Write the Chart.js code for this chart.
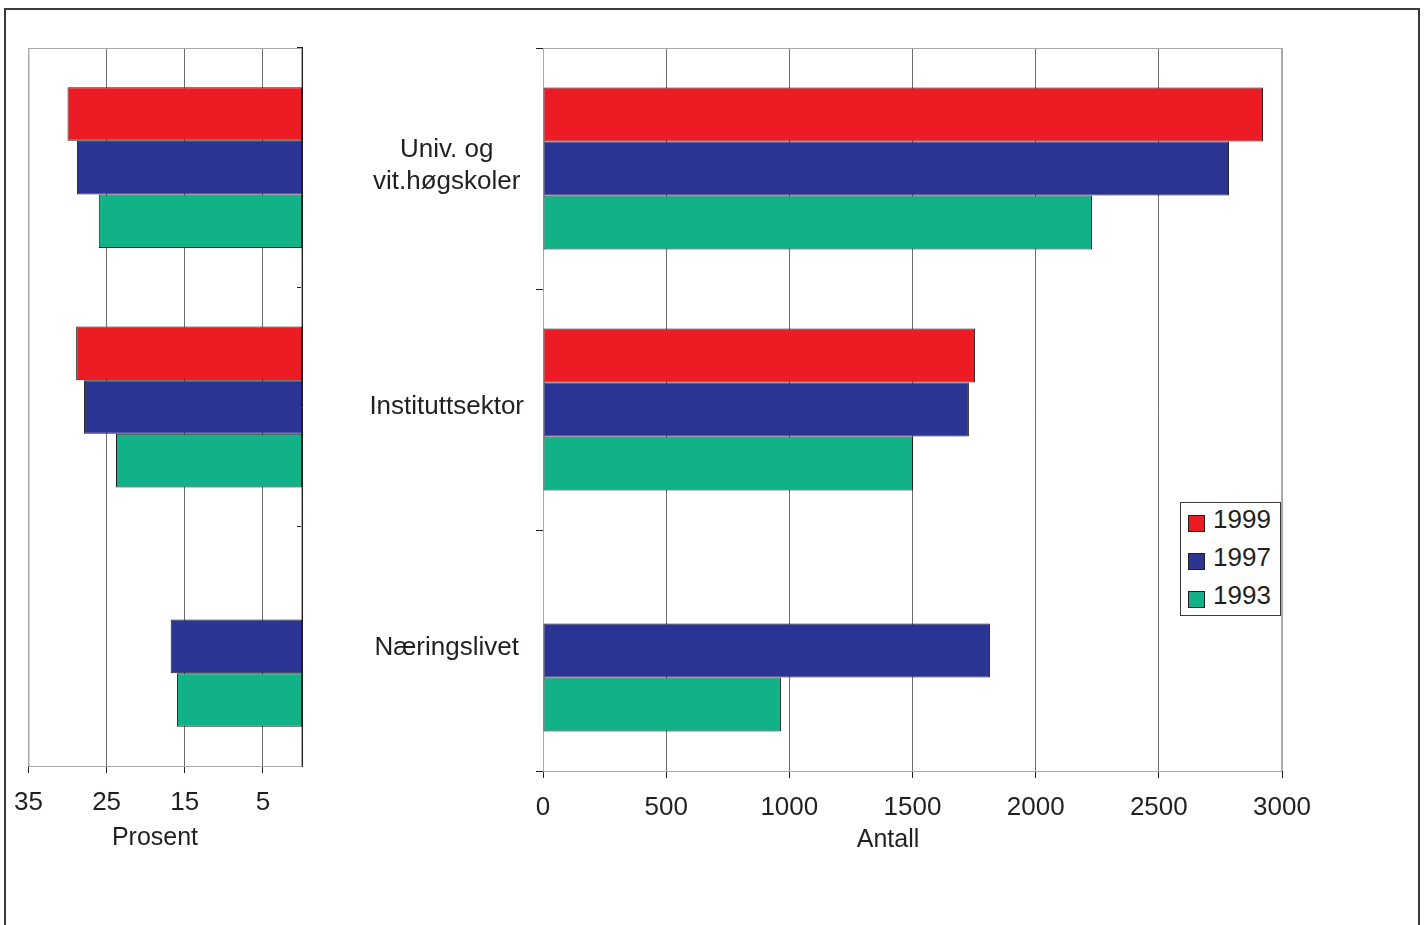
<!DOCTYPE html>
<html>
<head>
<meta charset="utf-8">
<script src="https://cdn.jsdelivr.net/npm/chart.js@4"></script>
<style>
  body { margin: 0; background: #fff; width: 1424px; height: 925px; overflow: hidden; position: relative; font-family: "Liberation Sans", Arial, sans-serif; color: #231f20; }
  #frame { position: absolute; left: 4px; top: 8px; width: 1412px; height: 940px; border: 2px solid #3a3a3a; border-bottom: none; }
  #wrapLeft { position: absolute; left: 0; top: 0; width: 340px; height: 925px; }
  #wrapRight { position: absolute; left: 330px; top: 0; width: 1094px; height: 925px; }
  .axisTitle { position: absolute; font-size: 25px; line-height: 30px; width: 200px; text-align: center; }
  #legend { position: absolute; left: 1180px; top: 502px; width: 101px; height: 114px; border: 1px solid #3a3a3a; background: #fff; box-sizing: border-box; }
  .item { position: absolute; left: 7px; font-size: 26px; line-height: 30px; }
  .item span { display: inline-block; width: 17px; height: 17px; border: 1px solid #231f20; box-sizing: border-box; margin-right: 8px; vertical-align: -4px; }
</style>
</head>
<body>
<div id="frame"></div>
<div id="wrapLeft"><canvas id="pctChart"></canvas></div>
<div id="wrapRight"><canvas id="numChart"></canvas></div>
<div class="axisTitle" style="left:55px; top:821px;">Prosent</div>
<div class="axisTitle" style="left:788px; top:823px;">Antall</div>
<div id="legend"></div>
<script>
// Sectors (top to bottom)
var sectors = [["Univ. og", "vit.høgskoler"], "Instituttsektor", "Næringslivet"];
var years = ["1999", "1997", "1993"];
var colors = ["#ed1c24", "#2b3492", "#12b289"];

// Percent (left panel)
var pct1999 = [30, 28.9, null];
var pct1997 = [28.8, 27.9, 16.8];
var pct1993 = [26.0, 23.8, 16.0];
var pctTicks = [35, 25, 15, 5];

// Count (right panel)
var num1999 = [2923, 1754, null];
var num1997 = [2785, 1729, 1815];
var num1993 = [2229, 1502, 966];

var FONT = "'Liberation Sans', Arial, sans-serif";
var INK = "#231f20";
var GRID = "#6e6e6e";
var EDGE = "#a7a9ac";

// light outline on the open sides of the plot area
var outline = {
  id: "outline",
  beforeDatasetsDraw: function (chart) {
    var a = chart.chartArea, c = chart.ctx;
    c.save();
    c.strokeStyle = EDGE;
    c.lineWidth = 1;
    c.strokeRect(a.left + 0.5, a.top + 0.5, a.right - a.left - 1, a.bottom - a.top);
    c.restore();
  }
};

function makeSets(a, b, c) {
  return [a, b, c].map(function (vals, i) {
    return {
      label: years[i],
      data: vals,
      backgroundColor: colors[i],
      borderColor: INK,
      borderWidth: 1,
      borderSkipped: false,
      categoryPercentage: 0.672,
      barPercentage: 1
    };
  });
}

Chart.defaults.font.family = FONT;
Chart.defaults.color = INK;

new Chart(document.getElementById("pctChart"), {
  type: "bar",
  data: { labels: sectors, datasets: makeSets(pct1999, pct1997, pct1993) },
  plugins: [outline],
  options: {
    indexAxis: "y",
    responsive: true,
    maintainAspectRatio: false,
    animation: false,
    layout: { padding: { left: 28, top: 48, right: 0, bottom: 0 } },
    plugins: { legend: { display: false }, tooltip: { enabled: false } },
    scales: {
      x: {
        min: 0, max: 35, reverse: true,
        afterBuildTicks: function (s) { s.ticks = pctTicks.map(function (v) { return { value: v }; }); },
        afterFit: function (s) { s.height = 159; },
        grid: {
          color: function (ctx) { return ctx.tick && ctx.tick.value === 35 ? EDGE : GRID; },
          tickColor: INK, tickLength: 7
        },
        border: { color: INK, width: 1 },
        ticks: { font: { size: 26 }, padding: 14, color: INK }
      },
      y: {
        position: "right",
        afterFit: function (s) { s.width = 38; },
        grid: { drawOnChartArea: false, tickLength: -5, tickColor: INK },
        border: { color: INK, width: 1 },
        ticks: { display: false }
      }
    }
  }
});

new Chart(document.getElementById("numChart"), {
  type: "bar",
  data: { labels: sectors, datasets: makeSets(num1999, num1997, num1993) },
  plugins: [outline],
  options: {
    indexAxis: "y",
    responsive: true,
    maintainAspectRatio: false,
    animation: false,
    layout: { padding: { left: 0, top: 48, right: 142, bottom: 0 } },
    plugins: { legend: { display: false }, tooltip: { enabled: false } },
    scales: {
      x: {
        min: 0, max: 3000,
        ticks: {
          stepSize: 500, font: { size: 26 }, padding: 14, color: INK,
          callback: function (v) { return String(v); }
        },
        afterFit: function (s) { s.height = 154; },
        grid: {
          color: function (ctx) { return ctx.tick && ctx.tick.value === 3000 ? EDGE : GRID; },
          tickColor: INK, tickLength: 7
        },
        border: { color: INK, width: 1 }
      },
      y: {
        afterFit: function (s) { s.width = 213; },
        grid: { drawOnChartArea: false, tickLength: 7, tickColor: INK },
        border: { color: INK, width: 1 },
        ticks: { font: { size: 26, lineHeight: 1.23 }, padding: 12, labelOffset: -3, crossAlign: "center", color: INK }
      }
    }
  }
});

// legend
var lg = document.getElementById("legend");
years.forEach(function (y, i) {
  var d = document.createElement("div");
  d.className = "item";
  d.style.top = (1 + i * 38) + "px";
  d.innerHTML = '<span style="background:' + colors[i] + '"></span>' + y;
  lg.appendChild(d);
});
</script>
</body>
</html>
